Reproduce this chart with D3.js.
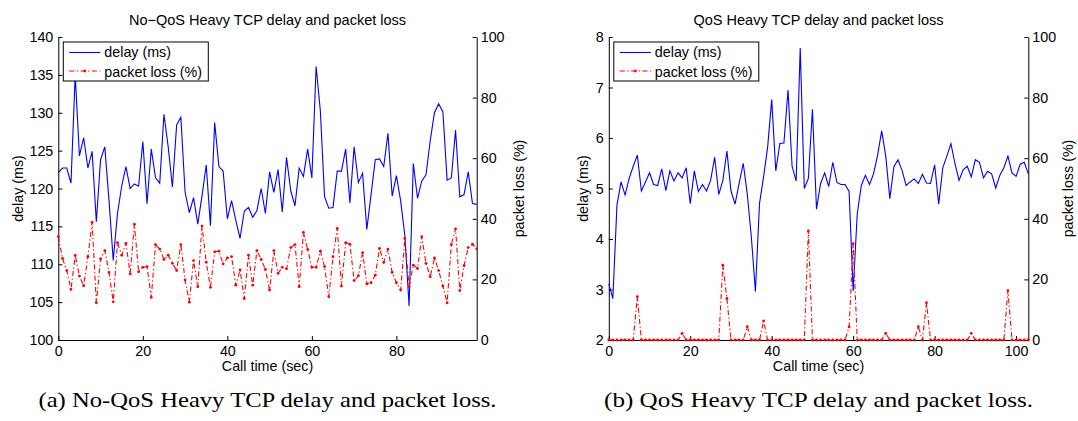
<!DOCTYPE html>
<html>
<head>
<meta charset="utf-8">
<script src="https://cdn.jsdelivr.net/npm/d3@7"></script>
<style>
  body { margin: 0; background: #fff; }
  svg text { font-family: "Liberation Sans", Arial, Helvetica, sans-serif; fill: #000; }
</style>
</head>
<body>
<svg id="fig" width="1078" height="421"></svg>
<script>
// (a) No-QoS: one sample per second, t = 0..99
const noQosDelay = [
  122.1, 122.7, 122.7, 120.7, 135.0, 124.3, 126.7, 122.7, 124.9, 115.6,
  123.8, 125.5, 118.4, 110.5, 116.7, 120.3, 122.9, 120.0, 120.6, 120.3,
  126.2, 118.0, 125.2, 121.4, 120.7, 129.8, 125.5, 120.2, 128.4, 129.4,
  119.5, 116.8, 118.8, 115.3, 119.0, 123.1, 115.1, 128.7, 122.9, 122.3,
  116.0, 118.4, 115.8, 113.4, 117.0, 117.5, 116.2, 117.1, 120.0, 116.7,
  122.2, 119.5, 122.5, 116.9, 124.1, 119.7, 117.7, 122.7, 121.6, 125.2,
  121.4, 136.1, 130.3, 118.9, 117.4, 117.5, 122.3, 122.3, 125.2, 118.1,
  125.5, 120.8, 122.0, 114.6, 119.2, 123.8, 123.9, 122.9, 127.3, 119.0,
  121.7, 118.4, 113.8, 104.5, 123.3, 118.7, 121.0, 121.8, 126.3, 130.0,
  131.2, 130.1, 121.1, 121.4, 127.7, 118.9, 119.2, 122.2, 118.0, 117.9
]
const noQosLoss = [
  34.1, 26.9, 22.9, 16.7, 27.9, 21.1, 17.9, 27.5, 38.8, 12.3,
  26.8, 29.5, 22.3, 12.6, 32.1, 28.0, 31.9, 21.8, 38.2, 22.5,
  24.0, 24.2, 14.1, 31.5, 30.0, 26.6, 28.0, 25.3, 22.9, 31.5,
  19.8, 12.5, 26.2, 17.6, 37.6, 25.7, 17.4, 29.1, 29.3, 25.1,
  27.1, 27.5, 18.1, 23.1, 13.7, 28.0, 18.1, 29.5, 26.6, 23.3,
  16.5, 29.5, 22.0, 24.0, 23.5, 30.5, 31.5, 17.6, 35.5, 29.9,
  24.0, 24.0, 29.3, 24.2, 14.3, 27.5, 36.8, 17.8, 32.1, 31.6,
  19.6, 21.2, 28.8, 18.5, 18.9, 21.4, 30.2, 25.6, 30.0, 22.3,
  18.9, 16.5, 33.5, 17.6, 24.7, 23.6, 34.1, 25.3, 20.9, 27.1,
  22.9, 17.8, 12.3, 31.5, 36.7, 16.3, 24.5, 30.5, 31.6, 30.1
]

// (b) QoS: t = 0..103
const qosDelay = [
  3.11, 2.82, 4.67, 5.13, 4.87, 5.20, 5.44, 5.66, 4.95, 5.13,
  5.31, 5.08, 5.06, 5.39, 4.96, 5.35, 5.15, 5.31, 5.21, 5.41,
  4.70, 5.35, 4.94, 5.08, 4.95, 5.16, 5.62, 4.88, 5.16, 5.74,
  4.95, 4.69, 5.10, 5.50, 4.89, 4.04, 2.96, 4.70, 5.23, 5.82,
  6.76, 5.35, 5.89, 5.90, 6.95, 5.44, 5.15, 7.78, 5.00, 5.20,
  6.57, 4.59, 5.10, 5.31, 5.04, 5.52, 5.12, 5.08, 5.08, 4.94,
  2.97, 4.50, 5.06, 5.26, 5.08, 5.29, 5.66, 6.14, 5.64, 4.80,
  5.43, 5.57, 5.36, 5.06, 5.13, 5.19, 5.10, 5.28, 5.11, 5.10,
  5.47, 4.69, 5.41, 5.64, 5.89, 5.49, 5.16, 5.37, 5.44, 5.23,
  5.57, 5.52, 5.21, 5.34, 5.29, 5.01, 5.26, 5.41, 5.64, 5.31,
  5.24, 5.48, 5.52, 5.29
]
const qosLoss = [
  0, 0, 0, 0, 0, 0, 0, 14.3, 0, 0,
  0, 0, 0, 0, 0, 0, 0, 0, 2.2, 0,
  0, 0, 0, 0, 0, 0, 0, 0, 24.7, 13.7,
  0, 0, 0, 0, 4.4, 0, 0, 0, 6.3, 0,
  0, 0, 0, 0, 0, 0, 0, 0, 0, 36.0,
  0, 0, 0, 0, 0, 0, 0, 0, 0, 4.3,
  31.8, 0, 0, 0, 0, 0, 0, 0, 2.2, 0,
  0, 0, 0, 0, 0, 0, 4.4, 0, 12.3, 0,
  0, 0, 0, 0, 0, 0, 0, 0, 0, 2.2,
  0, 0, 0, 0, 0, 0, 0, 0, 16.3, 0,
  0, 0, 0, 0
]

// tick labels
const noQosDelayTicks = [100, 105, 110, 115, 120, 125, 130, 135, 140]
const qosDelayTicks = [2, 3, 4, 5, 6, 7, 8]
const lossTicks = [0, 20, 40, 60, 80, 100]
const noQosTimeTicks = [0, 20, 40, 60, 80]
const qosTimeTicks = [0, 20, 40, 60, 80, 100]

const legendLabels = ["delay (ms)", "packet loss (%)"]

const svg = d3.select("#fig")
const plotTop = 37
const plotBottom = 340
const fontSize = "14.3px"
const fmt = d3.format("~g")

function drawPanel(cfg) {
  const g = svg.append("g")
  const mid = (cfg.left + cfg.right) / 2
  const midY = (plotTop + plotBottom) / 2

  const x = d3.scaleLinear().domain([0, cfg.delay.length - 1]).range([cfg.left, cfg.right])
  const yDelay = d3.scaleLinear().domain(d3.extent(cfg.delayTicks)).range([plotBottom, plotTop])
  const yLoss = d3.scaleLinear().domain(d3.extent(lossTicks)).range([plotBottom, plotTop])

  // axes, ticks inward like matlab
  const axL = g.append("g")
    .attr("transform", `translate(${cfg.left},0)`)
    .call(d3.axisLeft(yDelay).tickValues(cfg.delayTicks).tickFormat(fmt)
      .tickSize(-4).tickSizeOuter(0).tickPadding(5))
  const axR = g.append("g")
    .attr("transform", `translate(${cfg.right},0)`)
    .call(d3.axisRight(yLoss).tickValues(lossTicks).tickFormat(fmt)
      .tickSize(-4).tickSizeOuter(0).tickPadding(4))
  const axB = g.append("g")
    .attr("transform", `translate(0,${plotBottom})`)
    .call(d3.axisBottom(x).tickValues(cfg.timeTicks).tickFormat(fmt)
      .tickSize(-4).tickSizeOuter(0).tickPadding(6))

  ;[axL, axR, axB].forEach((a) => {
    a.attr("font-family", null).attr("font-size", null)
    a.selectAll("text").style("font-size", fontSize)
    a.selectAll("path, line").attr("stroke", "#000").attr("stroke-width", 1)
  })

  // delay line
  g.append("path")
    .datum(cfg.delay)
    .attr("fill", "none")
    .attr("stroke", "#0000ff")
    .attr("stroke-width", 1.1)
    .attr("d", d3.line().x((d, i) => x(i)).y((d) => yDelay(d)))

  // packet loss line, dash-dot with point markers
  g.append("path")
    .datum(cfg.loss)
    .attr("fill", "none")
    .attr("stroke", "#ff0000")
    .attr("stroke-width", 1.1)
    .attr("stroke-dasharray", "5,2.5,1.3,2.5")
    .attr("d", d3.line().x((d, i) => x(i)).y((d) => yLoss(d)))

  g.selectAll(".mk")
    .data(cfg.loss)
    .join("circle")
    .attr("class", "mk")
    .attr("cx", (d, i) => x(i))
    .attr("cy", (d) => yLoss(d))
    .attr("r", 1.4)
    .attr("fill", "#ff0000")

  // titles and labels
  g.append("text")
    .attr("x", mid).attr("y", 25)
    .attr("text-anchor", "middle")
    .style("font-size", "14.5px")
    .text(cfg.title)

  g.append("text")
    .attr("x", mid).attr("y", 371)
    .attr("text-anchor", "middle")
    .style("font-size", fontSize)
    .text("Call time (sec)")

  g.append("text")
    .attr("transform", `translate(${cfg.delayLabelX},${midY}) rotate(-90)`)
    .attr("text-anchor", "middle")
    .style("font-size", fontSize)
    .text("delay (ms)")

  g.append("text")
    .attr("transform", `translate(${cfg.lossLabelX},${midY}) rotate(-90)`)
    .attr("text-anchor", "middle")
    .style("font-size", fontSize)
    .text("packet loss (%)")

  // legend
  const lg = g.append("g").attr("transform", `translate(${cfg.left + 5},42)`)
  lg.append("rect")
    .attr("width", 145).attr("height", 39)
    .attr("fill", "#fff").attr("stroke", "#000").attr("stroke-width", 1)
  lg.append("line")
    .attr("x1", 6).attr("x2", 37).attr("y1", 10.5).attr("y2", 10.5)
    .attr("stroke", "#0000ff").attr("stroke-width", 1.1)
  lg.append("line")
    .attr("x1", 6).attr("x2", 37).attr("y1", 29).attr("y2", 29)
    .attr("stroke", "#ff0000").attr("stroke-width", 1.1)
    .attr("stroke-dasharray", "5,2.5,1.3,2.5")
  lg.append("circle").attr("cx", 21.5).attr("cy", 29).attr("r", 1.4).attr("fill", "#ff0000")
  lg.append("text").attr("x", 41).attr("y", 15).style("font-size", fontSize).text(legendLabels[0])
  lg.append("text").attr("x", 41).attr("y", 34.5).style("font-size", fontSize).text(legendLabels[1])

  // caption
  svg.append("text")
    .attr("x", mid).attr("y", 407)
    .attr("text-anchor", "middle")
    .attr("textLength", cfg.captionWidth)
    .attr("lengthAdjust", "spacingAndGlyphs")
    .style("font-family", '"Liberation Serif", "DejaVu Serif", serif')
    .style("font-size", "21px")
    .text(cfg.caption)
}

drawPanel({
  left: 58.3, right: 476.7,
  delay: noQosDelay, loss: noQosLoss,
  delayTicks: noQosDelayTicks, timeTicks: noQosTimeTicks,
  title: "No\u2212QoS Heavy TCP delay and packet loss",
  caption: "(a)  No-QoS Heavy TCP delay and packet loss.",
  captionWidth: 458,
  delayLabelX: 22.5, lossLabelX: 524
})

drawPanel({
  left: 608.8, right: 1028.3,
  delay: qosDelay, loss: qosLoss,
  delayTicks: qosDelayTicks, timeTicks: qosTimeTicks,
  title: "QoS Heavy TCP delay and packet loss",
  caption: "(b)  QoS Heavy TCP delay and packet loss.",
  captionWidth: 429,
  delayLabelX: 588, lossLabelX: 1073
})
</script>
</body>
</html>
